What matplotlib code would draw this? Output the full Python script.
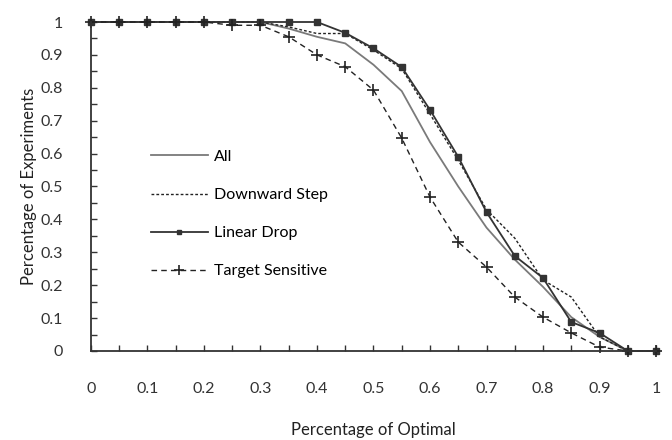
import numpy as np
import matplotlib
matplotlib.use('Agg')
import matplotlib.pyplot as plt
from matplotlib.ticker import MultipleLocator

plt.rcParams['font.family'] = ['Lato', 'DejaVu Sans']

# Percentage of optimal (x) and fraction of experiments reaching it (y)
x = [0, 0.05, 0.1, 0.15, 0.2, 0.25, 0.3, 0.35, 0.4, 0.45, 0.5,
     0.55, 0.6, 0.65, 0.7, 0.75, 0.8, 0.85, 0.9, 0.95, 1.0]

all_exp = [1, 1, 1, 1, 1, 1, 1, 0.98, 0.955, 0.935, 0.87,
           0.79, 0.635, 0.5, 0.375, 0.278, 0.195, 0.103, 0.043, 0, 0]
downward_step = [1, 1, 1, 1, 1, 1, 1, 0.985, 0.965, 0.965, 0.915,
                 0.858, 0.72, 0.58, 0.43, 0.343, 0.216, 0.164, 0.043, 0, 0]
linear_drop = [1, 1, 1, 1, 1, 1, 1, 1, 1, 0.967, 0.92,
               0.863, 0.733, 0.59, 0.422, 0.289, 0.222, 0.088, 0.055, 0, 0]
target_sensitive = [1, 1, 1, 1, 1, 0.99, 0.99, 0.955, 0.9, 0.864, 0.793,
                    0.647, 0.468, 0.331, 0.255, 0.164, 0.103, 0.055, 0.012, 0, 0]

fig = plt.figure(figsize=(6.72, 4.4), dpi=100)
ax = fig.add_axes([0.1354, 0.2023, 0.8408, 0.7477])

ax.plot(x, all_exp, color='#7a7a7a', lw=1.3, label='All', clip_on=False)
ax.plot(x, downward_step, color='#222222', lw=1.0, linestyle=(0, (2, 1.5)),
        label='Downward Step', clip_on=False)
ax.plot(x, linear_drop, color='#333333', lw=1.3, marker='s', markersize=4,
        markerfacecolor='#333333', label='Linear Drop', clip_on=False)
ax.plot(x, target_sensitive, color='#222222', lw=1.0, linestyle=(0, (4, 3)),
        marker='+', markersize=9, markeredgewidth=1.2,
        label='Target Sensitive', clip_on=False)

ax.set_xlim(0, 1)
ax.set_ylim(0, 1)
ax.xaxis.set_major_locator(MultipleLocator(0.1))
ax.xaxis.set_minor_locator(MultipleLocator(0.05))
ax.yaxis.set_major_locator(MultipleLocator(0.1))
ax.yaxis.set_minor_locator(MultipleLocator(0.05))
ax.set_xticklabels([f'{v:g}' for v in np.round(ax.get_xticks(), 1)])
ax.set_yticklabels([f'{v:g}' for v in np.round(ax.get_yticks(), 1)])

ax.spines['top'].set_visible(False)
ax.spines['right'].set_visible(False)
for s in ('left', 'bottom'):
    ax.spines[s].set_color('#333333')
    ax.spines[s].set_linewidth(1.3)

ax.tick_params(axis='both', which='both', direction='in', color='#333333',
               labelsize=11.5, labelcolor='#333333')
ax.tick_params(axis='both', which='both', length=4, width=1)
ax.tick_params(axis='x', which='major', pad=22)
ax.tick_params(axis='y', which='major', pad=20)

ax.set_xlabel('Percentage of Optimal', fontsize=12, color='#222222', labelpad=19)
ax.set_ylabel('Percentage of Experiments', fontsize=12, color='#222222', labelpad=3)

ax.legend(loc='upper left', bbox_to_anchor=(0.08, 0.655), frameon=False,
          fontsize=11.5, handlelength=3.6, handletextpad=0.35,
          labelspacing=1.5, markerscale=0.8)

fig.savefig('out.png', dpi=100)
